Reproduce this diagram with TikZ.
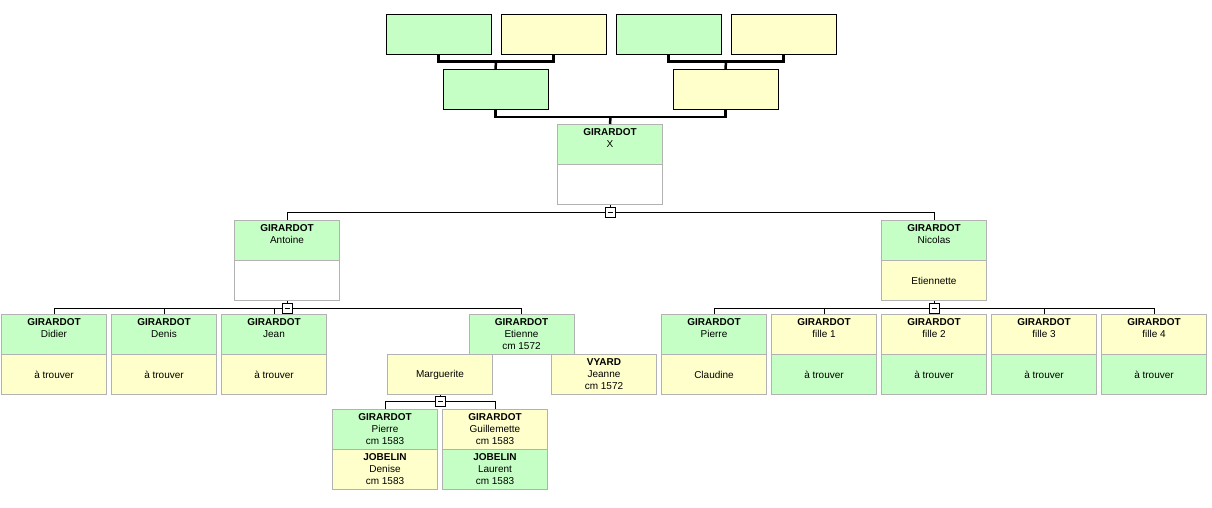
\documentclass[tikz,border=0pt]{standalone}
\usepackage{fontspec}
\setmainfont{Liberation Sans}
\usetikzlibrary{calc}
\definecolor{cgreen}{RGB}{198,255,198}
\definecolor{cyellow}{RGB}{255,255,204}
\definecolor{cellgray}{RGB}{178,178,178}
\newcommand\tl[1]{\parbox[c][40pt][t]{105pt}{\centering\rule{0pt}{11pt}#1}}
\tikzset{
  cell/.style={draw=cellgray, line width=1pt, minimum width=105pt, minimum height=40pt,
    inner sep=0pt, anchor=north west, font=\fontsize{10}{12}\selectfont, align=center},
  G/.style={cell, fill=cgreen},
  Y/.style={cell, fill=cyellow},
  W/.style={cell, fill=white},
  anc/.style={cell, draw=black},
  pline/.style={line width=2.5pt},
  dline/.style={line width=1pt},
  minusbox/.style={draw=black, line width=1pt, fill=white, minimum size=10pt, inner sep=0pt,
    path picture={\draw[line width=1pt] ([xshift=-2.5pt]path picture bounding box.center) -- ++(5pt,0);}}
}
\begin{document}
\begin{tikzpicture}[x=1pt,y=-1pt]
\useasboundingbox (0,0) rectangle (1212,508);
% ancestors
\node[anc, fill=cgreen] (a1) at (385.5,14) {};
\node[anc, fill=cyellow] (a2) at (500.5,14) {};
\node[anc, fill=cgreen] (a3) at (615.5,14) {};
\node[anc, fill=cyellow] (a4) at (730.5,14) {};
\node[anc, fill=cgreen] (p1) at (442.5,69) {};
\node[anc, fill=cyellow] (p2) at (672.5,69) {};
% root
\node[G] (x) at (557,124) {\tl{\textbf{GIRARDOT}\\X}};
\node[W] (xs) at (557,164) {};
% pedigree connectors
\draw[pline] (a1.south) -- ++(0,6.5) coordinate (c1) -| (a2.south);
\draw[pline] ($(a1.south)!0.5!(a2.south)+(0,6.5)$) -- (p1.north);
\draw[pline] (a3.south) -- ++(0,6.5) -| (a4.south);
\draw[pline] ($(a3.south)!0.5!(a4.south)+(0,6.5)$) -- (p2.north);
\draw[pline] (p1.south) -- ++(0,7) -| (p2.south);
\draw[pline] ($(p1.south)!0.5!(p2.south)+(0,7)$) -- (x.north);
% generation 1
\node[G] (ant) at (234,220) {\tl{\textbf{GIRARDOT}\\Antoine}};
\node[W] (ants) at (234,260) {};
\node[G] (nic) at (881,220) {\tl{\textbf{GIRARDOT}\\Nicolas}};
\node[Y] (nics) at (881,260) {Etiennette};
\draw[dline] (xs.south) -- ++(0,7) coordinate (m1);
\draw[dline] (ant.north) -- (ant.north |- m1) -- (nic.north |- m1) -- (nic.north);
\node[minusbox] (mx) at ($(m1)+(0,0.5)$) {};
% Antoine's children
\node[G] (did) at (1,314) {\tl{\textbf{GIRARDOT}\\Didier}};
\node[Y] (dids) at (1,354) {à trouver};
\node[G] (den) at (111,314) {\tl{\textbf{GIRARDOT}\\Denis}};
\node[Y] (dens) at (111,354) {à trouver};
\node[G] (jea) at (221,314) {\tl{\textbf{GIRARDOT}\\Jean}};
\node[Y] (jeas) at (221,354) {à trouver};
\node[G] (eti) at (468.5,314) {\tl{\textbf{GIRARDOT}\\Etienne\\cm 1572}};
\node[Y] (mar) at (387,354) {Marguerite};
\node[Y] (vya) at (551,354) {\tl{\textbf{VYARD}\\Jeanne\\cm 1572}};
\draw[dline] (ants.south) -- ++(0,7) coordinate (m2);
\draw[dline] (did.north) -- (did.north |- m2) -- (eti.north |- m2) -- (eti.north);
\draw[dline] (den.north) -- (den.north |- m2);
\draw[dline] (jea.north) -- (jea.north |- m2);
\node[minusbox] (ma) at (m2) {};
% Nicolas's children
\node[G] (pie) at (661,314) {\tl{\textbf{GIRARDOT}\\Pierre}};
\node[Y] (pies) at (661,354) {Claudine};
\node[Y] (f1) at (771,314) {\tl{\textbf{GIRARDOT}\\fille 1}};
\node[G] (f1s) at (771,354) {à trouver};
\node[Y] (f2) at (881,314) {\tl{\textbf{GIRARDOT}\\fille 2}};
\node[G] (f2s) at (881,354) {à trouver};
\node[Y] (f3) at (991,314) {\tl{\textbf{GIRARDOT}\\fille 3}};
\node[G] (f3s) at (991,354) {à trouver};
\node[Y] (f4) at (1101,314) {\tl{\textbf{GIRARDOT}\\fille 4}};
\node[G] (f4s) at (1101,354) {à trouver};
\draw[dline] (nics.south) -- ++(0,7) coordinate (m3);
\draw[dline] (pie.north) -- (pie.north |- m3) -- (f4.north |- m3) -- (f4.north);
\draw[dline] (f1.north) -- (f1.north |- m3);
\draw[dline] (f3.north) -- (f3.north |- m3);
\node[minusbox] (mn) at (m3) {};
% Etienne & Marguerite's children
\node[G] (pi2) at (332,409) {\tl{\textbf{GIRARDOT}\\Pierre\\cm 1583}};
\node[Y] (pi2s) at (332,449) {\tl{\textbf{JOBELIN}\\Denise\\cm 1583}};
\node[Y] (gui) at (442,409) {\tl{\textbf{GIRARDOT}\\Guillemette\\cm 1583}};
\node[G] (guis) at (442,449) {\tl{\textbf{JOBELIN}\\Laurent\\cm 1583}};
\draw[dline] (mar.south) -- ++(0,6) coordinate (m4);
\draw[dline] (pi2.north) -- (pi2.north |- m4) -- (gui.north |- m4) -- (gui.north);
\node[minusbox] (mm) at (m4) {};
\end{tikzpicture}
\end{document}
